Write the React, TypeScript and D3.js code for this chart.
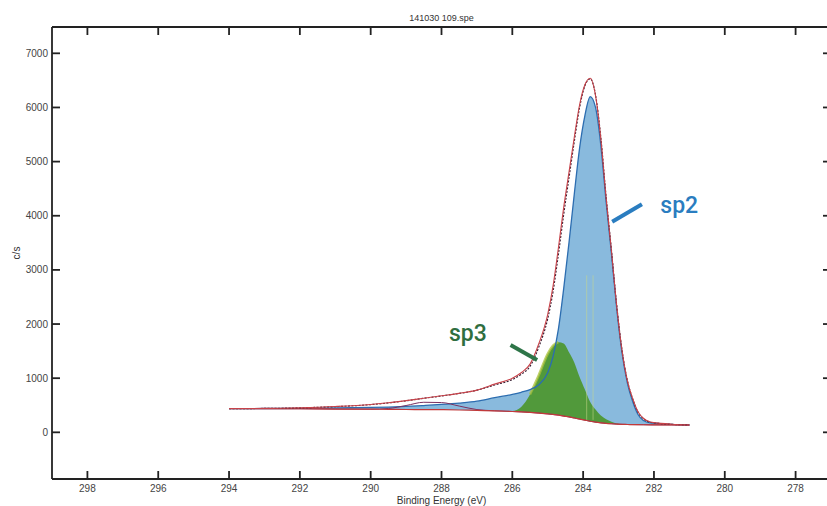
import React from 'react'
import * as d3 from 'd3'

// binding energy grid (eV)
const energy = [294, 293, 292, 291, 290, 289.5, 289, 288.5, 288, 287.5, 287, 286.5, 286, 285.75, 285.5, 285.25, 285, 284.85, 284.7, 284.55, 284.4, 284.25, 284.1, 283.95, 283.8, 283.65, 283.5, 283.35, 283.2, 283.05, 282.9, 282.75, 282.6, 282.45, 282.3, 282.1, 281.8, 281.5, 281]

const measured = [440, 442, 455, 478, 515, 545, 585, 630, 675, 720, 780, 890, 1000, 1100, 1260, 1640, 2180, 2700, 3400, 4150, 4800, 5450, 6050, 6420, 6540, 6220, 5420, 4320, 3350, 2320, 1500, 950, 620, 380, 260, 190, 165, 150, 135]
const envelope = [438, 441, 452, 474, 512, 543, 583, 628, 672, 718, 778, 875, 975, 1070, 1220, 1580, 2100, 2600, 3280, 4020, 4700, 5370, 6000, 6400, 6530, 6230, 5440, 4340, 3360, 2330, 1510, 955, 615, 372, 252, 186, 162, 148, 135]
const background = [438, 437, 435, 430, 427, 425, 422, 420, 418, 412, 405, 398, 385, 378, 368, 355, 340, 330, 318, 300, 285, 265, 245, 225, 205, 188, 175, 165, 158, 152, 148, 145, 143, 141, 140, 139, 138, 137, 135]
const sp2 = [438, 440, 444, 450, 460, 466, 478, 495, 515, 540, 575, 640, 700, 740, 790, 880, 1100, 1400, 1900, 2650, 3500, 4400, 5250, 5850, 6200, 6000, 5300, 4250, 3300, 2280, 1460, 910, 570, 330, 220, 175, 160, 148, 135]
const sp3 = [438, 437, 435, 430, 427, 425, 422, 420, 418, 412, 405, 400, 395, 470, 700, 1060, 1450, 1600, 1665, 1640, 1480, 1290, 1020, 790, 560, 420, 310, 240, 195, 165, 150, 145, 143, 141, 140, 139, 138, 137, 135]
const piComp = [438, 437, 435, 430, 427, 440, 495, 555, 550, 485, 420, 398, 385, 378, 368, 355, 340, 330, 318, 300, 285, 265, 245, 225, 205, 188, 175, 165, 158, 152, 148, 145, 143, 141, 140, 139, 138, 137, 135]

const xTicks = [298, 296, 294, 292, 290, 288, 286, 284, 282, 280, 278]
const yTicks = [0, 1000, 2000, 3000, 4000, 5000, 6000, 7000]
const markers = [283.9, 283.72]

const title = '141030 109.spe'
const xLabel = 'Binding Energy (eV)'
const yLabel = 'c/s'

export default function App() {
  const W = 827, H = 506
  const x = d3.scaleLinear().domain([299, 277]).range([52, 831])
  const y = d3.scaleLinear().domain([-862, 7486]).range([479, 27])
  const [x0, x1] = x.range()
  const [yb, yt] = y.range()

  const pts = (vals: number[]) => energy.map((e, i) => [e, vals[i]] as [number, number])
  const line = d3.line<[number, number]>().x(d => x(d[0])).y(d => y(d[1])).curve(d3.curveMonotoneX)
  const band = (top: number[]) =>
    d3.area<number>()
      .x(i => x(energy[i]))
      .y0(i => y(background[i]))
      .y1(i => y(top[i]))
      .curve(d3.curveMonotoneX)(energy.map((_, i) => i)) || ''

  const sp3Edge = pts(sp3).filter(d => d[0] <= 285.6 && d[0] >= 284.7)
  const font = '"Liberation Sans", Arial, sans-serif'
  const labelFont = 'Roboto, "Liberation Sans", sans-serif'

  return (
    <svg width={W} height={H} style={{ position: 'absolute', left: 0, top: 0, background: '#fff' }}>
      <text x={(x0 + x1) / 2} y={21} textAnchor="middle" fontFamily={font} fontSize={9} fill="#333">{title}</text>

      <path d={band(sp2)} fill="#7fb4da" fillOpacity={0.92} />
      <path d={band(sp3)} fill="#51993b" />
      <path d={line(sp3Edge) || ''} fill="none" stroke="#a9c23a" strokeWidth={2.5} opacity={0.75} />
      {markers.map(m => (
        <line key={m} x1={x(m)} x2={x(m)} y1={y(2900)} y2={y(230)} stroke="#c9d98a" strokeWidth={1} opacity={0.55} />
      ))}
      <path d={line(pts(sp2)) || ''} fill="none" stroke="#2c6db0" strokeWidth={1.3} />
      <path d={line(pts(piComp)) || ''} fill="none" stroke="#7a3060" strokeWidth={1} />
      <path d={line(pts(background)) || ''} fill="none" stroke="#c23a3a" strokeWidth={1.2} />
      <path d={line(pts(envelope)) || ''} fill="none" stroke="#3a2236" strokeWidth={1.2} strokeDasharray="2,1.5" />
      <path d={line(pts(measured)) || ''} fill="none" stroke="#c8434a" strokeWidth={1.1} />

      {/* annotations */}
      <line x1={x(283.18)} y1={y(3890)} x2={x(282.34)} y2={y(4211)} stroke="#2a7dc0" strokeWidth={4} />
      <text x={x(281.82)} y={y(4045)} fontFamily={labelFont} fontWeight={500} fontSize={23} fill="#2a7dc0">sp2</text>
      <line x1={x(286.05)} y1={y(1612)} x2={x(285.3)} y2={y(1335)} stroke="#2e7548" strokeWidth={4} />
      <text x={x(287.79)} y={y(1686)} fontFamily={labelFont} fontWeight={500} fontSize={23} fill="#2f6e3f">sp3</text>

      {/* frame */}
      <g stroke="#222" strokeWidth={1.8} fill="none">
        <line x1={x0} x2={x1} y1={yt} y2={yt} />
        <line x1={x0} x2={x1} y1={yb} y2={yb} />
        <line x1={x0} x2={x0} y1={yt} y2={yb} />
        <line x1={x1} x2={x1} y1={yt} y2={yb} />
        {xTicks.map(t => (
          <g key={t}>
            <line x1={x(t)} x2={x(t)} y1={yb} y2={yb - 8} />
            <line x1={x(t)} x2={x(t)} y1={yt} y2={yt + 8} />
          </g>
        ))}
        {yTicks.map(t => (
          <g key={t}>
            <line x1={x0} x2={x0 + 8} y1={y(t)} y2={y(t)} />
            <line x1={x1} x2={x1 - 8} y1={y(t)} y2={y(t)} />
          </g>
        ))}
      </g>
      {xTicks.map(t => (
        <text key={t} x={x(t)} y={yb + 13} textAnchor="middle" fontFamily={font} fontSize={10} fill="#444">{t}</text>
      ))}
      {yTicks.map(t => (
        <text key={t} x={x0 - 4} y={y(t) + 3.5} textAnchor="end" fontFamily={font} fontSize={10} fill="#444">{t}</text>
      ))}
      <text x={(x0 + x1) / 2} y={504} textAnchor="middle" fontFamily={font} fontSize={10} fill="#333">{xLabel}</text>
      <text transform={`translate(20,${(yt + yb) / 2}) rotate(-90)`} textAnchor="middle" fontFamily={font} fontSize={10} fill="#333">{yLabel}</text>
    </svg>
  )
}
